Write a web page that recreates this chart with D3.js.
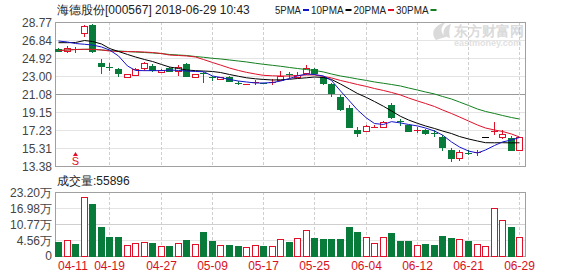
<!DOCTYPE html>
<html>
<head>
<meta charset="utf-8">
<script src="https://cdn.jsdelivr.net/npm/d3@7"></script>
<style>
  body { margin: 0; background: #fff; }
  svg text { font-family: "Liberation Sans", Arial, sans-serif; }
</style>
</head>
<body>
<div id="chart"></div>
<script>
// trading days shown (2018)
const dates = ["04-11","04-12","04-13","04-16","04-17","04-18","04-19","04-20","04-23","04-24","04-25","04-26","04-27",
  "05-02","05-03","05-04","05-07","05-08","05-09","05-10","05-11","05-14","05-15","05-16","05-17","05-18","05-21","05-22",
  "05-23","05-24","05-25","05-28","05-29","05-30","05-31","06-01","06-04","06-05","06-06","06-07","06-08","06-11","06-12",
  "06-13","06-14","06-15","06-19","06-20","06-21","06-22","06-25","06-26","06-27","06-28","06-29"];

const open  = [25.85,25.62,25.87,27.56,28.40,24.42,23.95,23.71,22.86,23.10,23.82,24.07,23.40,23.82,23.53,24.25,22.93,23.30,22.93,22.68,
  22.93,22.24,22.03,22.31,22.26,22.34,22.57,23.16,22.86,23.29,23.71,22.93,22.11,20.79,19.55,17.23,17.12,17.55,17.58,19.90,
  18.14,17.76,17.21,17.23,16.89,16.51,15.09,14.27,14.82,14.82,16.45,17.03,16.45,16.41,15.09];
const high  = [26.00,26.20,26.13,28.45,28.60,24.78,24.42,23.82,23.22,23.89,24.53,24.25,23.70,24.00,24.17,24.35,23.25,23.46,23.00,22.90,
  23.00,22.43,22.12,22.57,22.30,22.65,23.57,23.43,23.46,24.17,23.82,23.00,22.20,20.97,19.90,17.58,17.75,17.80,18.15,20.08,
  18.40,17.80,17.58,17.30,17.23,16.69,15.34,15.09,15.09,15.09,16.45,18.05,17.23,16.60,16.50];
const low   = [25.60,25.50,25.50,27.17,25.50,23.21,23.57,22.86,22.82,23.03,23.53,23.39,23.30,23.45,23.00,22.95,22.85,22.22,22.50,22.60,
  22.40,22.00,22.00,22.00,22.15,22.07,22.43,22.71,22.75,23.10,23.10,22.04,20.79,19.26,17.47,16.45,17.05,17.50,17.55,18.40,
  17.65,17.05,16.87,16.70,16.51,14.98,13.84,13.94,14.56,14.48,16.45,16.69,16.26,15.00,15.00];
const close = [25.70,25.95,25.83,28.34,25.62,24.07,23.91,23.29,23.18,23.71,24.36,23.64,23.64,23.53,23.99,23.03,23.21,23.26,22.75,22.84,
  22.46,22.20,22.10,22.35,22.18,22.38,23.03,23.12,23.10,23.89,23.29,22.22,21.15,19.47,17.58,16.94,17.65,17.60,18.05,18.65,
  18.10,17.12,17.25,16.87,16.85,15.44,14.20,14.91,14.78,14.86,16.45,17.07,16.80,15.09,16.45];

// volume in 万 (10k lots)
const volume = [3.90,4.56,3.01,21.37,18.54,9.73,5.84,5.84,2.62,3.51,3.78,3.39,2.23,2.23,3.28,4.56,3.01,7.67,4.17,2.62,
  2.62,2.23,1.84,2.62,2.23,2.23,4.95,3.90,5.45,8.44,5.45,5.07,5.07,5.07,9.73,7.78,5.84,3.51,5.72,7.40,
  4.17,4.17,2.62,3.01,2.62,6.23,5.45,4.95,4.17,3.01,2.35,16.99,12.33,9.73,5.59];

// moving averages
const ma5  = [26.74,26.63,26.47,26.39,26.31,26.10,25.78,25.14,24.07,23.59,23.57,23.57,23.57,23.64,23.59,23.53,23.48,23.46,23.00,22.84,
  22.63,22.46,22.36,22.25,22.25,22.30,22.46,22.73,23.00,23.21,23.16,23.00,22.52,21.40,20.33,19.37,18.51,17.92,17.82,18.12,
  17.98,17.82,17.66,17.44,17.12,16.69,15.95,15.41,14.98,14.77,15.09,15.57,15.95,16.16,16.43];
const ma10 = [26.56,26.56,26.58,26.79,26.69,26.42,25.94,25.62,25.30,25.03,24.76,24.55,24.23,23.96,23.80,23.64,23.57,23.53,23.48,23.37,
  23.16,22.97,22.81,22.70,22.63,22.57,22.59,22.65,22.73,22.81,22.89,22.84,22.63,22.14,21.61,21.13,20.70,20.27,19.76,19.26,
  18.69,18.30,17.94,17.66,17.39,17.12,16.85,16.53,16.27,16.05,15.87,15.86,15.87,15.85,15.86];
const ma20 = [25.72,25.78,25.83,25.85,25.85,25.78,25.67,25.62,25.60,25.60,25.56,25.51,25.40,25.24,25.19,25.14,25.03,24.76,24.44,24.17,
  23.85,23.59,23.39,23.21,23.07,23.02,23.00,23.00,23.05,23.11,23.11,22.95,22.79,22.52,22.30,22.09,21.88,21.66,21.45,21.24,
  20.97,20.65,20.33,20.06,19.74,19.37,18.99,18.62,18.19,17.76,17.44,17.23,17.07,16.80,16.48];
const ma30 = [25.72,25.78,25.83,25.85,25.85,25.78,25.72,25.67,25.62,25.56,25.51,25.46,25.40,25.30,25.24,25.19,25.08,25.00,24.89,24.82,
  24.71,24.60,24.50,24.36,24.25,24.14,24.04,23.91,23.80,23.69,23.59,23.43,23.21,23.00,22.84,22.68,22.52,22.36,22.22,22.09,
  21.93,21.72,21.50,21.29,21.08,20.81,20.54,20.22,19.85,19.47,19.21,18.99,18.78,18.56,18.40];

const priceTicks = [28.77, 26.84, 24.92, 23.00, 21.08, 19.15, 17.23, 15.31, 13.38];
const volTicks = [23.20, 16.98, 10.77, 4.56];
const volTickLabels = ["23.20万", "16.98万", "10.77万", "4.56万"];
const xTickDates = ["04-11","04-19","04-27","05-09","05-17","05-25","06-04","06-12","06-21","06-29"];

const maNames = ["5PMA", "10PMA", "20PMA", "30PMA"];
const maColors = ["#1515c8", "#000000", "#e0102a", "#13801f"];

let Chart = (() => {

  let self = {};

  self.width = 578;
  self.height = 276;
  self.left = 55;
  self.right = 525;
  self.priceTop = 22;
  self.priceBottom = 166;
  self.volTop = 192;
  self.volBottom = 256;

  const UP = "#e0102a";
  const DOWN = "#087a3a";

  self.draw = (divName) => {

    const svg = d3.select(divName)
      .append("svg")
      .attr("width", self.width)
      .attr("height", self.height);

    svg.append("rect").attr("width", self.width).attr("height", self.height).attr("fill", "#fff");

    const x = d3.scaleBand()
      .domain(d3.range(dates.length))
      .range([54, 523.5])
      .paddingInner(0.3)
      .paddingOuter(0.15);
    const cx = i => Math.round(x(i) + x.bandwidth() / 2);
    const bw = 6;

    const y = d3.scaleLinear()
      .domain([13.38, 28.77])
      .range([self.priceBottom, self.priceTop]);

    const yv = d3.scaleLinear()
      .domain([-1.653, 23.20])
      .range([self.volBottom, self.volTop]);

    /**
     * Grid of the price panel
     */
    const grid = svg.append("g");
    priceTicks.forEach((t, k) => {
      const yy = Math.round(y(t)) + 0.5;
      if (k > 0 && k < priceTicks.length - 1) {
        grid.append("line")
          .attr("x1", self.left).attr("x2", self.right)
          .attr("y1", yy).attr("y2", yy)
          .attr("stroke", k == 4 ? "#999" : "#e4e4e4");
      }
      svg.append("text")
        .attr("x", 52).attr("y", yy)
        .attr("text-anchor", "end")
        .attr("dominant-baseline", "central")
        .attr("font-size", 12)
        .attr("fill", "#444")
        .text(t.toFixed(2));
    });

    volTicks.forEach((t, k) => {
      const yy = Math.round(yv(t)) + 0.5;
      if (k > 0) {
        grid.append("line")
          .attr("x1", self.left).attr("x2", self.right)
          .attr("y1", yy).attr("y2", yy)
          .attr("stroke", k == 2 ? "#cfcfcf" : "#e4e4e4");
      }
      svg.append("text")
        .attr("x", 52).attr("y", yy)
        .attr("text-anchor", "end")
        .attr("dominant-baseline", "central")
        .attr("font-size", 12)
        .attr("fill", "#444")
        .text(volTickLabels[k]);
    });
    svg.append("text")
      .attr("x", 52).attr("y", self.volBottom)
      .attr("text-anchor", "end")
      .attr("dominant-baseline", "central")
      .attr("font-size", 12)
      .attr("fill", "#444")
      .text("0");

    // vertical dashed lines + date labels
    xTickDates.forEach((d, k) => {
      const i = dates.indexOf(d);
      const xx = cx(i) + 0.5;
      if (k > 0) {
        [[self.priceTop, self.priceBottom], [self.volTop, self.volBottom]].forEach(r => {
          grid.append("line")
            .attr("x1", xx).attr("x2", xx)
            .attr("y1", r[0]).attr("y2", r[1])
            .attr("stroke", "#cfcfcf")
            .attr("stroke-dasharray", "3,2");
        });
      }
      svg.append("text")
        .attr("x", k == 0 ? cx(i) : xx)
        .attr("y", 270)
        .attr("text-anchor", k == 0 ? "start" : "middle")
        .attr("font-size", 12)
        .attr("fill", "#d8101c")
        .text(d);
    });

    // panel borders
    [[self.priceTop, self.priceBottom], [self.volTop, self.volBottom]].forEach(r => {
      svg.append("rect")
        .attr("x", self.left + 0.5).attr("y", r[0] + 0.5)
        .attr("width", self.right - self.left).attr("height", r[1] - r[0])
        .attr("fill", "none")
        .attr("stroke", "#a0a0a0");
    });

    /**
     * Watermark
     */
    const wm = svg.append("g").attr("opacity", 0.55);
    wm.append("path")
      .attr("d", "M436,40 C430,33 434,25 446,22 C440,27 440,33 446,37 C442,38 439,39 436,40 Z M444,36 C442,30 446,25 451,24 C449,29 449,33 450,38 Z")
      .attr("fill", "#bdbdbd");
    wm.append("text")
      .attr("x", 454).attr("y", 36)
      .attr("font-family", "Noto Sans CJK SC")
      .attr("font-size", 14).attr("font-weight", "bold")
      .attr("fill", "#bdbdbd")
      .text("东方财富网");
    wm.append("text")
      .attr("x", 454).attr("y", 46)
      .attr("font-size", 9).attr("font-weight", "bold")
      .attr("fill", "#c8c8c8")
      .text("eastmoney.com");

    /**
     * Candles
     */
    const candles = svg.append("g");
    dates.forEach((d, i) => {
      const o = open[i], h = high[i], l = low[i], c = close[i];
      const xc = cx(i) + 0.5;
      const x0 = cx(i) - bw / 2;
      if (h == l) {
        candles.append("line")
          .attr("x1", x0).attr("x2", x0 + bw + 1)
          .attr("y1", Math.round(y(c)) + 0.5).attr("y2", Math.round(y(c)) + 0.5)
          .attr("stroke", "#000");
        return;
      }
      const col = c >= o ? UP : DOWN;
      const yTop = Math.round(y(Math.max(o, c)));
      const yBot = Math.round(y(Math.min(o, c)));
      candles.append("line")
        .attr("x1", xc).attr("x2", xc)
        .attr("y1", Math.round(y(h))).attr("y2", Math.round(y(l)))
        .attr("stroke", col);
      if (yBot - yTop <= 1) {
        candles.append("line")
          .attr("x1", x0).attr("x2", x0 + bw + 1)
          .attr("y1", yTop + 0.5).attr("y2", yTop + 0.5)
          .attr("stroke", col);
      } else if (c > o) {
        candles.append("rect")
          .attr("x", x0 + 0.5).attr("y", yTop + 0.5)
          .attr("width", bw).attr("height", yBot - yTop)
          .attr("fill", "#fff")
          .attr("stroke", col);
      } else {
        candles.append("rect")
          .attr("x", x0).attr("y", yTop)
          .attr("width", bw + 1).attr("height", yBot - yTop + 1)
          .attr("fill", col);
      }
    });

    // buy signal marker
    const si = dates.indexOf("04-13");
    svg.append("path")
      .attr("d", `M${cx(si) - 2},${156} L${cx(si) + 0.5},${152} L${cx(si) + 3},${156} Z`)
      .attr("fill", UP);
    svg.append("text")
      .attr("x", cx(si) + 0.5).attr("y", 165)
      .attr("text-anchor", "middle")
      .attr("font-size", 11)
      .attr("fill", UP)
      .text("S");

    /**
     * Moving average lines
     */
    const line = d3.line()
      .x((v, i) => cx(i) + 0.5)
      .y(v => y(v));
    [ma30, ma20, ma10, ma5].forEach((m, k) => {
      svg.append("path")
        .datum(m)
        .attr("d", line)
        .attr("fill", "none")
        .attr("stroke", maColors[3 - k])
        .attr("stroke-width", 1);
    });

    /**
     * Volume bars
     */
    const vol = svg.append("g");
    volume.forEach((v, i) => {
      const up = close[i] >= open[i];
      const x0 = cx(i) - bw / 2;
      const yTop = Math.round(yv(v));
      if (up) {
        vol.append("rect")
          .attr("x", x0 + 0.5).attr("y", yTop + 0.5)
          .attr("width", bw).attr("height", self.volBottom - yTop)
          .attr("fill", "#fff")
          .attr("stroke", UP);
      } else {
        vol.append("rect")
          .attr("x", x0).attr("y", yTop)
          .attr("width", bw + 1).attr("height", self.volBottom - yTop + 1)
          .attr("fill", DOWN);
      }
    });

    /**
     * Header texts
     */
    svg.append("text")
      .attr("x", 57).attr("y", 14)
      .attr("font-family", "Noto Sans CJK SC")
      .attr("font-size", 12)
      .attr("fill", "#222")
      .text("海德股份[000567] 2018-06-29 10:43");

    // legend: label followed by a short colour dash, ~6.5px per character
    let lx = 275;
    maNames.forEach((n, k) => {
      const w = n.length * 6.5;
      svg.append("text")
        .attr("x", lx).attr("y", 14)
        .attr("font-size", 11)
        .attr("textLength", w)
        .attr("lengthAdjust", "spacingAndGlyphs")
        .attr("fill", "#222")
        .text(n);
      lx += w + 2;
      svg.append("rect")
        .attr("x", lx).attr("y", 9)
        .attr("width", 6).attr("height", 2)
        .attr("fill", maColors[k]);
      lx += 8;
    });

    svg.append("text")
      .attr("x", 57).attr("y", 185)
      .attr("font-family", "Noto Sans CJK SC")
      .attr("font-size", 12)
      .attr("fill", "#222")
      .text("成交量:55896");
  }

  return self;
})();

Chart.draw("#chart");
</script>
</body>
</html>
